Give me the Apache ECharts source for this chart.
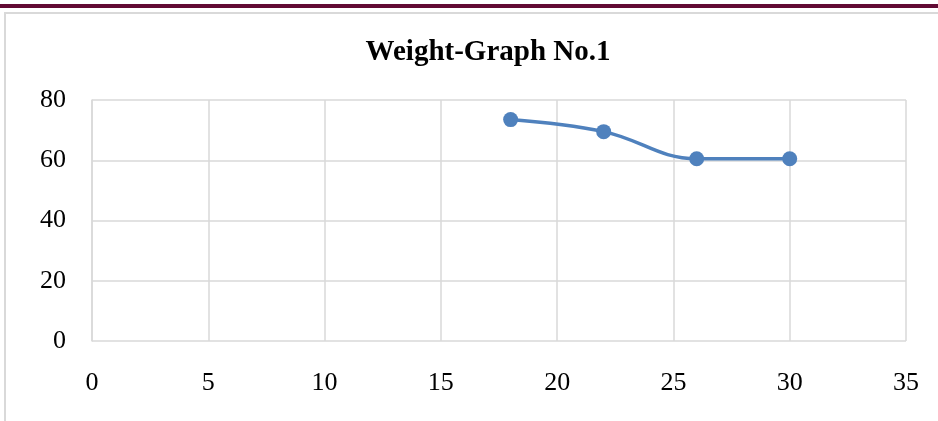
<!DOCTYPE html>
<html>
<head>
<meta charset="utf-8">
<script src="https://cdn.jsdelivr.net/npm/echarts@6/dist/echarts.min.js"></script>
<style>
  html, body { margin: 0; padding: 0; background: #fff; }
  #chart { width: 938px; height: 421px; }
</style>
</head>
<body>
<div id="chart"></div>
<script>
// data
var weekNo = [18, 22, 26, 30];
var weight = [73.5, 69.5, 60.5, 60.5];
var titleText = "Weight-Graph No.1";

var points = weekNo.map(function (x, i) { return [x, weight[i]]; });
var serif = "Liberation Serif";
var gridColor = "#d9d9d9";

var chart = echarts.init(document.getElementById("chart"), null, { renderer: "canvas" });
chart.setOption({
    backgroundColor: "#fff",
    animation: false,
    title: {
        text: titleText,
        left: 483, top: 33,
        textAlign: "center",
        textStyle: { fontFamily: serif, fontWeight: "bold", fontSize: 29, color: "#000" }
    },
    graphic: [
        // dark band at the top of the page
        { type: "rect", shape: { x: 0, y: 4, width: 938, height: 4 }, style: { fill: "#620a34" } },
        // chart area frame
        { type: "polyline", shape: { points: [[5, 421], [5, 13], [938, 13]] },
          style: { stroke: gridColor, lineWidth: 2, fill: null } }
    ],
    grid: { left: 92, right: 32, top: 100, bottom: 80 },
    xAxis: {
        type: "value", min: 0, max: 35, interval: 5,
        axisLine: { show: false },
        axisTick: { show: false },
        axisLabel: { margin: 29, fontFamily: serif, fontSize: 26, color: "#000" },
        splitLine: { show: true, lineStyle: { color: gridColor, width: 1.5 } }
    },
    yAxis: {
        type: "value", min: 0, max: 80, interval: 20,
        axisLine: { show: true, lineStyle: { color: gridColor, width: 1.5 } },
        axisTick: { show: false },
        axisLabel: { margin: 26, fontFamily: serif, fontSize: 26, color: "#000" },
        splitLine: { show: true, lineStyle: { color: gridColor, width: 1.5 } }
    },
    series: [{
        type: "line",
        data: points,
        smooth: 0.4,
        symbol: "circle",
        symbolSize: 15,
        lineStyle: { color: "#4f81bd", width: 3.5 },
        itemStyle: { color: "#4f81bd" }
    }]
});
</script>
</body>
</html>
